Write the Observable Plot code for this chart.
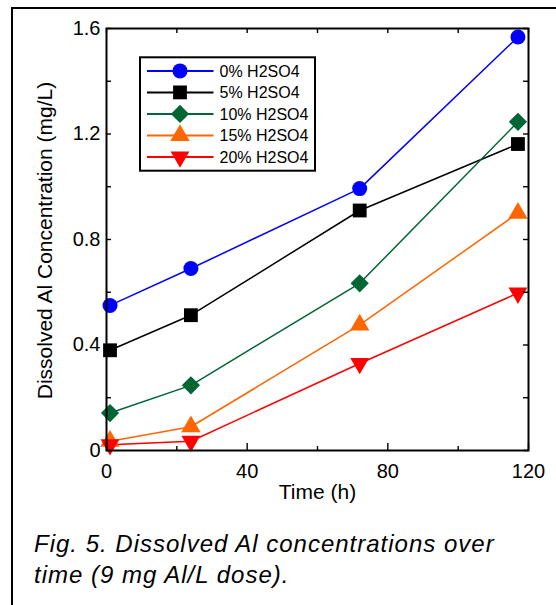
<!DOCTYPE html>
<html>
<head>
<meta charset="utf-8">
<script src="https://cdn.jsdelivr.net/npm/d3@7"></script>
<script src="https://cdn.jsdelivr.net/npm/@observablehq/plot@0.6"></script>
<style>
  body { margin: 0; background: #fff; font-family: "Liberation Sans", Arial, sans-serif; }
  #wrap { position: relative; width: 556px; height: 605px; overflow: hidden; background: #fff; }
  #outer { position: absolute; left: 11px; top: 7px; width: 700px; height: 800px;
           border-top: 2px solid #000; border-left: 2px solid #000; }
  #chart { position: absolute; left: 0; top: 0; }
  #legend { position: absolute; left: 0; top: 0; }
  #caption { position: absolute; left: 34px; top: 528px; font-style: italic; font-size: 24px;
             letter-spacing: 1px; line-height: 31px; color: #000; white-space: nowrap; }
</style>
</head>
<body>
<div id="wrap">
  <div id="outer"></div>
  <div id="chart"></div>
  <svg id="legend" width="556" height="200"></svg>
  <div id="caption">Fig. 5. Dissolved Al concentrations over<br>time (9 mg Al/L dose).</div>
</div>
<script>
// ---- data ----
const times = [1, 24, 72, 117];
const seriesNames = ["0% H2SO4", "5% H2SO4", "10% H2SO4", "15% H2SO4", "20% H2SO4"];
const conc0 = [0.55, 0.69, 0.993, 1.568];
const conc5 = [0.38, 0.513, 0.91, 1.162];
const conc10 = [0.142, 0.247, 0.634, 1.246];
const conc15 = [0.035, 0.09, 0.476, 0.9];
const conc20 = [0.022, 0.035, 0.33, 0.597];
const xMajorTicks = [0, 40, 80, 120];
const xMinorTicks = [20, 60, 100];
const yMajorTicks = [0, 0.4, 0.8, 1.2, 1.6];
const yMinorTicks = [0.2, 0.6, 1.0, 1.4];
const xLabel = "Time (h)";
const yLabel = "Dissolved Al Concentration (mg/L)";

// ---- styles ----
const colors = ["#0000ff", "#000000", "#006633", "#ff6600", "#ff0000"];
const triangleDown = {
  draw(context, size) {
    const y = -Math.sqrt(size / (Math.sqrt(3) * 3));
    context.moveTo(0, -y * 2);
    context.lineTo(-Math.sqrt(3) * y, y);
    context.lineTo(Math.sqrt(3) * y, y);
    context.closePath();
  }
};
const symbols = ["circle", "square", "diamond2", "triangle", triangleDown];
const d3symbols = [d3.symbolCircle, d3.symbolSquare, d3.symbolDiamond2, d3.symbolTriangle, triangleDown];
const radii = [7.5, 7.8, 8.2, 7.2, 7.0];

const allValues = [conc0, conc5, conc10, conc15, conc20];
const series = seriesNames.map((name, i) => ({
  name, color: colors[i], symbol: symbols[i], r: radii[i],
  data: times.map((t, j) => ({ t, v: allValues[i][j] }))
}));

const W = 556, H = 520;
const mL = 106, mR = 28, mT = 28, mB = 70;
const innerW = W - mL - mR, innerH = H - mT - mB;
const tickLen = 5;

const fmtY = d => d === 0 ? "0" : d.toFixed(1);

const marks = [];
for (const s of series) {
  marks.push(Plot.line(s.data, { x: "t", y: "v", stroke: s.color, strokeWidth: 1.5 }));
}
for (const s of series) {
  marks.push(Plot.dot(s.data, { x: "t", y: "v", symbol: s.symbol, r: s.r, fill: s.color, stroke: "none" }));
}
marks.push(
  // inward ticks, bottom
  Plot.tickX(xMajorTicks, { x: d => d, insetTop: innerH - 7, stroke: "#000", strokeWidth: 1.4 }),
  Plot.tickX(xMinorTicks, { x: d => d, insetTop: innerH - 4, stroke: "#000", strokeWidth: 1.4 }),
  // top
  Plot.tickX(xMajorTicks.concat(xMinorTicks), { x: d => d, insetBottom: innerH - tickLen, stroke: "#000", strokeWidth: 1.4 }),
  // left
  Plot.tickY(yMajorTicks.concat(yMinorTicks), { y: d => d, insetRight: innerW - tickLen, stroke: "#000", strokeWidth: 1.4 }),
  // right
  Plot.tickY(yMajorTicks.concat(yMinorTicks), { y: d => d, insetLeft: innerW - tickLen, stroke: "#000", strokeWidth: 1.4 }),
  Plot.axisX(xMajorTicks, { tickSize: 0, tickPadding: 13, fontSize: 20, label: null }),
  Plot.axisY(yMajorTicks, { tickSize: 0, tickPadding: 6, fontSize: 20, tickFormat: fmtY, label: null }),
  Plot.text([xLabel], { frameAnchor: "bottom", dy: 48, text: d => d, fontSize: 21, fill: "#000" }),
  Plot.text([yLabel], { frameAnchor: "left", textAnchor: "middle", dx: -61, dy: 1, rotate: -90, text: d => d, fontSize: 21, fill: "#000" }),
  Plot.frame({ stroke: "#000", strokeWidth: 2 })
);

const chart = Plot.plot({
  width: W, height: H,
  marginLeft: mL, marginRight: mR, marginTop: mT, marginBottom: mB,
  x: { domain: [0, 120], axis: null },
  y: { domain: [0, 1.6], axis: null },
  style: { fontFamily: "'Liberation Sans', Arial, sans-serif", background: "transparent", color: "#000", overflow: "visible" },
  marks
});
document.getElementById("chart").appendChild(chart);

// ---- legend ----
const lg = d3.select("#legend");
const box = { x: 140, y: 57.3, w: 175, h: 113.4 };
lg.append("rect").attr("x", box.x).attr("y", box.y).attr("width", box.w).attr("height", box.h)
  .attr("fill", "#fff").attr("stroke", "#000").attr("stroke-width", 2);
series.forEach((s, i) => {
  const y = 70.9 + i * 21.5;
  lg.append("line").attr("x1", 147).attr("x2", 213.5).attr("y1", y).attr("y2", y)
    .attr("stroke", s.color).attr("stroke-width", 2);
  lg.append("path")
    .attr("d", d3.symbol(d3symbols[i], Math.PI * s.r * s.r)())
    .attr("transform", `translate(180,${y})`).attr("fill", s.color);
  lg.append("text").attr("x", 219.5).attr("y", y).attr("dy", "0.35em")
    .attr("font-size", 16).attr("font-family", "'Liberation Sans', Arial, sans-serif")
    .attr("fill", "#000").text(s.name);
});
</script>
</body>
</html>
